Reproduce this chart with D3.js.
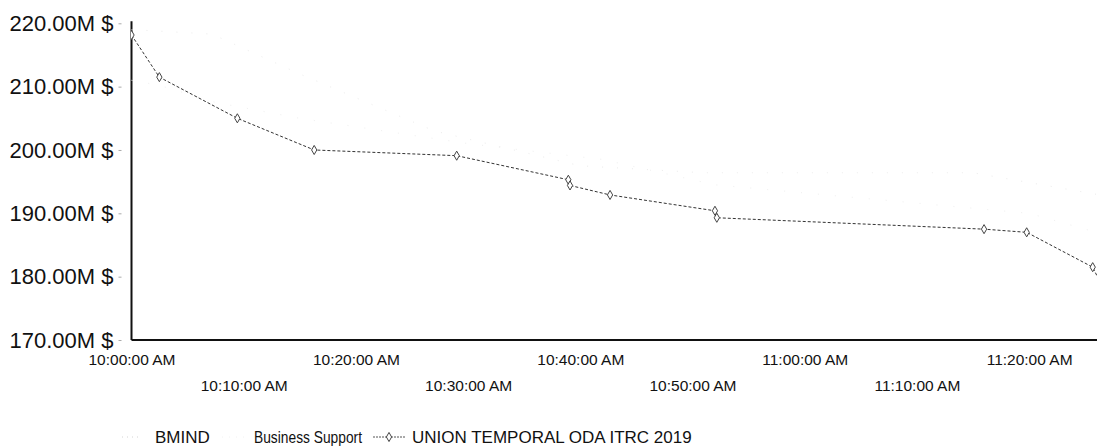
<!DOCTYPE html>
<html>
<head>
<meta charset="utf-8">
<script src="https://cdn.jsdelivr.net/npm/d3@7"></script>
<style>
  body { margin: 0; background: #fff; }
  svg { display: block; font-family: "Liberation Sans", Arial, sans-serif; }
</style>
</head>
<body>
<svg id="chart" width="1097" height="446"></svg>
<script>
// main series: UNION TEMPORAL ODA ITRC 2019
const unionTimes = ["10:00:00", "10:02:29", "10:09:26", "10:16:17", "10:28:59", "10:38:56", "10:39:05",
  "10:42:39", "10:52:00", "10:52:10", "11:15:59", "11:19:47", "11:25:40", "11:26:30"];
const unionValues = [218.15, 211.5, 205.0, 200.0, 199.1, 195.3, 194.4, 192.9, 190.4, 189.3, 187.5, 187.0, 181.5, 178.5];

// the two other series are printed almost white in the reference
const bmindTimes = ["10:00:00", "10:07:10", "10:15:00", "10:27:00", "10:40:00", "10:51:00", "11:15:00", "11:26:00"];
const bmindValues = [219.0, 218.3, 212.0, 203.0, 197.5, 196.4, 196.4, 193.0];
const supportTimes = ["10:00:00", "10:02:30", "10:07:30", "10:15:00", "10:30:00", "10:42:00", "10:52:00", "11:20:00", "11:26:00"];
const supportValues = [211.0, 210.2, 207.5, 205.0, 201.0, 198.5, 194.5, 190.0, 187.0];

const yTicks = [170, 180, 190, 200, 210, 220];
const xTicks = ["10:00:00", "10:10:00", "10:20:00", "10:30:00", "10:40:00", "10:50:00", "11:00:00", "11:10:00", "11:20:00"];
const legendNames = ["BMIND", "Business Support", "UNION TEMPORAL ODA ITRC 2019"];

const parse = d3.timeParse("%H:%M:%S");
const fmt = d3.timeFormat("%-I:%M:%S %p");

const svg = d3.select("#chart");

const x = d3.scaleTime()
  .domain([parse("10:00:00"), parse("11:26:03")])
  .range([131.5, 1097]);

const y = d3.scaleLinear()
  .domain([170, 220])
  .range([340, 23.3]);

svg.append("clipPath").attr("id", "plot")
  .append("rect")
  .attr("x", 131).attr("y", 0).attr("width", 966).attr("height", 345);

// y axis labels
const yAxis = svg.append("g")
  .attr("transform", "translate(131.5,0)")
  .call(d3.axisLeft(y).tickValues(yTicks).tickSize(0).tickPadding(18)
    .tickFormat(d => d3.format(".2f")(d) + "M $"));
yAxis.select(".domain").remove();
yAxis.selectAll(".tick text")
  .attr("font-size", 22)
  .attr("fill", "#111")
  .attr("font-family", "Liberation Sans, Arial, sans-serif");
yAxis.selectAll(".tick").append("line")
  .attr("x1", -13).attr("x2", -10)
  .attr("stroke", "#aaa");

// x axis labels, staggered on two rows
const xAxis = svg.append("g")
  .attr("transform", "translate(0,340)")
  .call(d3.axisBottom(x).tickValues(xTicks.map(parse)).tickSize(0).tickFormat(fmt));
xAxis.select(".domain").remove();
xAxis.selectAll(".tick text")
  .attr("font-size", 15.5)
  .attr("fill", "#111")
  .attr("font-family", "Liberation Sans, Arial, sans-serif")
  .attr("dy", null)
  .attr("y", (d, i) => i % 2 === 0 ? 25 : 51);

// axis lines
svg.append("line")
  .attr("x1", 131.5).attr("x2", 131.5)
  .attr("y1", y(220) - 2).attr("y2", y(170))
  .attr("stroke", "#111").attr("stroke-width", 2);
svg.append("line")
  .attr("x1", 131.5).attr("x2", 1097)
  .attr("y1", y(170)).attr("y2", y(170))
  .attr("stroke", "#111").attr("stroke-width", 2);

const line = d3.line()
  .x(d => x(d[0]))
  .y(d => y(d[1]));

const plot = svg.append("g").attr("clip-path", "url(#plot)");

const bmind = bmindTimes.map((t, i) => [parse(t), bmindValues[i]]);
const support = supportTimes.map((t, i) => [parse(t), supportValues[i]]);
const union = unionTimes.map((t, i) => [parse(t), unionValues[i]]);

plot.append("path")
  .datum(bmind)
  .attr("d", line)
  .attr("fill", "none")
  .attr("stroke", "#ececec")
  .attr("stroke-dasharray", "1,14");

plot.append("path")
  .datum(support)
  .attr("d", line)
  .attr("fill", "none")
  .attr("stroke", "#f0f0f0")
  .attr("stroke-dasharray", "1,16");

plot.append("path")
  .datum(union)
  .attr("d", line)
  .attr("fill", "none")
  .attr("stroke", "#333")
  .attr("stroke-width", 1)
  .attr("stroke-dasharray", "3,2");

const diamond = d3.symbol().type(d3.symbolDiamond).size(24);

plot.selectAll(".marker")
  .data(union)
  .join("path")
  .attr("class", "marker")
  .attr("transform", d => `translate(${x(d[0])},${y(d[1])})`)
  .attr("d", diamond)
  .attr("fill", "#fff")
  .attr("stroke", "#444")
  .attr("stroke-width", 1);

// legend
const legendY = 437;
const legendX = [{ sym: 122, text: 155 }, { sym: 222, text: 254 }, { sym: 373, text: 412 }];
const legendWidth = [null, 108, null];
const legend = svg.append("g");

legend.append("line")
  .attr("x1", legendX[0].sym).attr("x2", legendX[0].sym + 18)
  .attr("y1", legendY).attr("y2", legendY)
  .attr("stroke", "#d4d4d4").attr("stroke-dasharray", "1,4");
legend.append("line")
  .attr("x1", legendX[1].sym).attr("x2", legendX[1].sym + 24)
  .attr("y1", legendY).attr("y2", legendY)
  .attr("stroke", "#f2f2f2").attr("stroke-dasharray", "1,6");
legend.append("line")
  .attr("x1", legendX[2].sym).attr("x2", legendX[2].sym + 32)
  .attr("y1", legendY).attr("y2", legendY)
  .attr("stroke", "#555").attr("stroke-dasharray", "2,1");
legend.append("path")
  .attr("transform", `translate(${legendX[2].sym + 16},${legendY})`)
  .attr("d", diamond)
  .attr("fill", "#fff").attr("stroke", "#444");

legend.selectAll("text")
  .data(legendNames)
  .join("text")
  .attr("x", (d, i) => legendX[i].text)
  .attr("y", legendY)
  .attr("dy", "0.35em")
  .attr("font-size", 17)
  .attr("fill", "#111")
  .attr("textLength", (d, i) => legendWidth[i])
  .attr("lengthAdjust", "spacingAndGlyphs")
  .text(d => d);
</script>
</body>
</html>
